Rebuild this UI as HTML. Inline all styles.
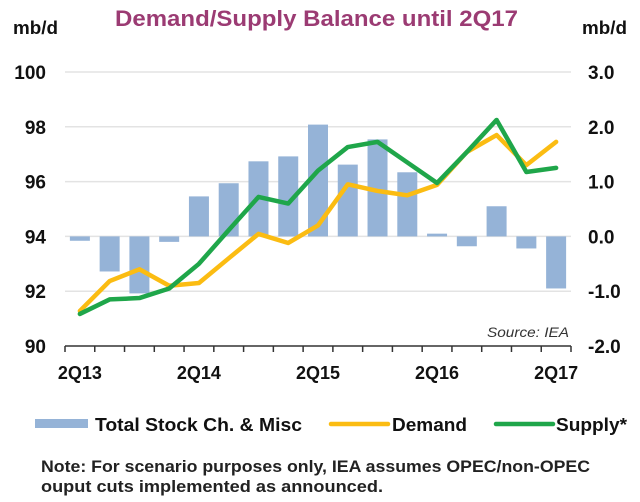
<!DOCTYPE html>
<html><head><meta charset="utf-8"><style>
body{margin:0;background:#fff;}
svg{display:block;font-family:"Liberation Sans",Arial,sans-serif;}
</style></head><body>
<svg id="c" width="640" height="502" viewBox="0 0 640 502">
<text x="115" y="26" font-size="22" font-weight="bold" fill="#9b3b73" textLength="403" lengthAdjust="spacingAndGlyphs">Demand/Supply Balance until 2Q17</text>
<text x="13" y="34" font-size="18" font-weight="bold" fill="#111" textLength="45" lengthAdjust="spacingAndGlyphs">mb/d</text>
<text x="582" y="34" font-size="18" font-weight="bold" fill="#111" textLength="45" lengthAdjust="spacingAndGlyphs">mb/d</text>
<g id="grid"></g><g id="bars"></g><g id="lines"></g><g id="axes"></g>
<text x="487" y="337" font-size="13.5" font-style="italic" fill="#333" textLength="82" lengthAdjust="spacingAndGlyphs">Source: IEA</text>
<g>
<rect x="35" y="419" width="53" height="9" fill="#95b3d7"/>
<text x="95" y="431" font-size="18" font-weight="bold" fill="#111" textLength="207" lengthAdjust="spacingAndGlyphs">Total Stock Ch. &amp; Misc</text>
<line x1="331" y1="424" x2="388" y2="424" stroke="#fbbc12" stroke-width="4.5" stroke-linecap="round"/>
<text x="392" y="431" font-size="18" font-weight="bold" fill="#111" textLength="75" lengthAdjust="spacingAndGlyphs">Demand</text>
<line x1="496" y1="424" x2="553" y2="424" stroke="#1fa64a" stroke-width="4.5" stroke-linecap="round"/>
<text x="556" y="431" font-size="18" font-weight="bold" fill="#111" textLength="71" lengthAdjust="spacingAndGlyphs">Supply*</text>
</g>
<text x="41" y="472" font-size="17" font-weight="bold" fill="#222" textLength="549" lengthAdjust="spacingAndGlyphs">Note: For scenario purposes only, IEA assumes OPEC/non-OPEC</text>
<text x="41" y="492" font-size="17" font-weight="bold" fill="#222" textLength="342" lengthAdjust="spacingAndGlyphs">ouput cuts implemented as announced.</text>
</svg>
<script>
const categories=["2Q13","3Q13","4Q13","1Q14","2Q14","3Q14","4Q14","1Q15","2Q15","3Q15","4Q15","1Q16","2Q16","3Q16","4Q16","1Q17","2Q17"];
const stockChange=[-0.08,-0.64,-1.04,-0.1,0.73,0.97,1.37,1.46,2.04,1.31,1.77,1.17,0.05,-0.18,0.55,-0.22,-0.95];
const demand=[91.28,92.37,92.8,92.2,92.3,93.2,94.09,93.76,94.4,95.9,95.66,95.5,95.88,97.08,97.7,96.6,97.45];
const supply=[91.17,91.7,91.75,92.1,93.0,94.23,95.44,95.2,96.4,97.26,97.45,96.7,95.95,97.08,98.25,96.35,96.5];
const leftTicks=[90,92,94,96,98,100];
const rightTicks=["-2.0","-1.0","0.0","1.0","2.0","3.0"];
const xLabels=["2Q13","2Q14","2Q15","2Q16","2Q17"];
const NS="http://www.w3.org/2000/svg";
const x0=65,x1=571,yTop=72,yBot=346;
const band=(x1-x0)/categories.length;
const xc=i=>x0+band*(i+0.5);
const yL=v=>yBot-(v-90)/10*(yBot-yTop);
const yR=v=>yBot-(v+2)/5*(yBot-yTop);
function mk(t,a,p){const e=document.createElementNS(NS,t);for(const k in a)e.setAttribute(k,a[k]);p.appendChild(e);return e;}
const g=document.getElementById('grid'),b=document.getElementById('bars'),l=document.getElementById('lines'),ax=document.getElementById('axes');
leftTicks.forEach((v,i)=>{
 if(i>0){const ln=mk('line',{x1:x0,x2:x1,y1:yL(v),y2:yL(v),stroke:'#e3e3e3','stroke-width':1.5},g);
 
 }
 const t=mk('text',{x:46,y:yL(v)+7,'text-anchor':'end','font-size':19,'font-weight':'bold',fill:'#111'},ax);t.textContent=v;
 
 
 const r=mk('text',{x:588,y:yL(v)+7,'font-size':19,'font-weight':'bold',fill:'#111'},ax);r.textContent=rightTicks[i];
 
 
});
stockChange.forEach((v,i)=>{
 const y=Math.min(yR(v),yR(0)),h=Math.abs(yR(v)-yR(0));
 const r=mk('rect',{x:xc(i)-10,y:y,width:20,height:Math.max(h,1),fill:'#95b3d7'},b);
 
 
});
function line(d,col,name){
 const p=mk('polyline',{points:d.map((v,i)=>xc(i)+','+yL(v)).join(' '),fill:'none',stroke:col,'stroke-width':4.5,'stroke-linejoin':'round','stroke-linecap':'round'},l);
 
 
}
line(demand,'#fbbc12','demand-line');
line(supply,'#1fa64a','supply-line');
const axl=mk('line',{x1:x0,x2:x1,y1:yBot,y2:yBot,stroke:'#333','stroke-width':1.5},ax);


for(let i=0;i<=categories.length;i++){
 const tk=mk('line',{x1:x0+band*i,x2:x0+band*i,y1:yBot,y2:yBot+6,stroke:'#333','stroke-width':1.5},ax);
 
 
}
xLabels.forEach(s=>{
 const i=categories.indexOf(s);
 const t=mk('text',{x:xc(i),y:379,'text-anchor':'middle','font-size':18,'font-weight':'bold',fill:'#111'},ax);t.textContent=s;
 
 
});
</script>
</body></html>
